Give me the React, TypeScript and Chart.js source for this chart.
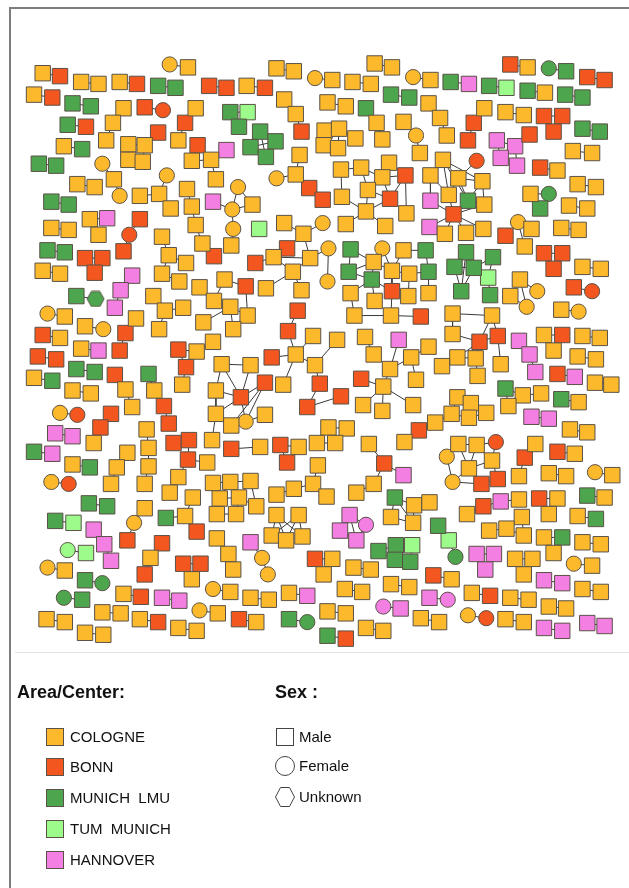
import React, { useEffect, useRef } from 'react';
import { Chart, registerables } from 'chart.js';
Chart.register(...registerables);

type Node = [number, number, string];
type Comp = Node[] | { n: Node[]; e: [number, number][] };

// Node kind code: first letter = center (O Cologne, R Bonn, G Munich LMU, L TUM Munich, P Hannover)
// suffix: '' square (male), 'c' circle (female), 'h' hexagon (unknown)
const centerCodes = ['O', 'R', 'G', 'L', 'P'];
const centerLabels = ['COLOGNE', 'BONN', 'MUNICH  LMU', 'TUM  MUNICH', 'HANNOVER'];
const centerColors = ['#FDB92C', '#F4561F', '#4DA54D', '#9DFB8B', '#F47FE3'];
const sexLabels = ['Male', 'Female', 'Unknown'];

const topLeft: Comp[] = [
  [[164, 54, 'Oc'], [183, 57, 'O']],
  [[32, 63, 'O'], [50, 66, 'R']],
  [[72, 72, 'O'], [90, 74, 'O']],
  [[112, 72, 'O'], [130, 74, 'R']],
  [[152, 76, 'G'], [170, 78, 'G']],
  [[205, 76, 'R'], [223, 78, 'R']],
  [[23, 85, 'O'], [42, 88, 'R']],
  [[63, 94, 'G'], [82, 97, 'G']],
  [[138, 98, 'R'], [157, 101, 'Rc']],
  [[116, 99, 'O'], [105, 114, 'O'], [98, 132, 'O']],
  [[191, 99, 'O'], [180, 114, 'R'], [173, 132, 'O']],
  [[58, 116, 'G'], [77, 118, 'R']],
  { n: [[152, 124, 'R'], [138, 137, 'O'], [121, 136, 'O'], [121, 152, 'O'], [136, 154, 'O']], e: [[0, 1], [1, 2], [2, 3], [3, 4], [1, 4]] },
  [[54, 138, 'O'], [73, 141, 'G']],
  { n: [[193, 137, 'R'], [187, 153, 'O'], [207, 152, 'O'], [212, 172, 'O'], [223, 142, 'P']], e: [[0, 1], [1, 2], [2, 3], [2, 4]] },
  [[28, 156, 'G'], [46, 158, 'G']],
  [[94, 156, 'Oc'], [106, 172, 'O'], [112, 189, 'Oc']],
  { n: [[161, 168, 'Oc'], [153, 187, 'O'], [133, 189, 'O'], [165, 202, 'O']], e: [[0, 1], [1, 2], [1, 3]] },
  [[68, 177, 'O'], [86, 180, 'O']],
  [[182, 182, 'O'], [187, 200, 'O'], [191, 219, 'O'], [198, 238, 'O'], [210, 251, 'R']],
  [[41, 195, 'G'], [59, 198, 'G']],
  { n: [[81, 213, 'O'], [99, 212, 'P'], [90, 229, 'O']], e: [[0, 1], [0, 2]] },
  [[133, 213, 'R'], [122, 229, 'Rc'], [116, 246, 'R']],
  [[41, 222, 'O'], [59, 224, 'O']],
  { n: [[156, 231, 'O'], [163, 250, 'O'], [181, 258, 'O'], [156, 269, 'O'], [174, 277, 'O']], e: [[0, 1], [1, 2], [1, 3], [3, 4]] },
];

const topCenter: Comp[] = [
  [[275, 58, 'O'], [293, 61, 'O']],
  [[377, 53, 'O'], [395, 57, 'O']],
  [[315, 68, 'Oc'], [333, 70, 'O']],
  [[354, 72, 'O'], [373, 74, 'O']],
  [[417, 67, 'Oc'], [435, 70, 'O']],
  [[244, 76, 'O'], [263, 78, 'R']],
  [[394, 85, 'G'], [413, 88, 'G']],
  { n: [[227, 103, 'G'], [245, 103, 'L'], [236, 118, 'G']], e: [[0, 1], [0, 2]] },
  [[283, 90, 'O'], [295, 105, 'O'], [301, 123, 'R']],
  [[328, 93, 'O'], [347, 97, 'O']],
  [[368, 99, 'G'], [379, 114, 'O'], [385, 131, 'O']],
  [[407, 113, 'O'], [420, 127, 'Oc'], [424, 145, 'O']],
  { n: [[258, 123, 'G'], [274, 133, 'G'], [248, 139, 'G'], [264, 149, 'G']], e: [[0, 1], [0, 2], [0, 3], [1, 3], [2, 3], [1, 2]] },
  { n: [[325, 122, 'O'], [340, 120, 'O'], [324, 137, 'O'], [339, 140, 'O'], [357, 130, 'O']], e: [[0, 1], [0, 2], [2, 3], [1, 4], [1, 3]] },
  { n: [[299, 147, 'O'], [295, 167, 'O'], [275, 171, 'Oc'], [309, 181, 'R'], [323, 193, 'R']], e: [[0, 1], [1, 2], [1, 3], [3, 4]] },
  {
    n: [[342, 162, 'O'], [363, 160, 'O'], [392, 155, 'O'], [385, 170, 'O'], [409, 168, 'R'], [370, 183, 'O'], [343, 190, 'O'], [393, 192, 'R'], [410, 207, 'O'], [368, 205, 'O'], [347, 218, 'O'], [388, 220, 'O']],
    e: [[0, 1], [0, 6], [1, 3], [2, 3], [3, 4], [1, 5], [3, 5], [5, 7], [4, 7], [2, 4], [4, 8], [5, 9], [6, 9], [7, 9], [7, 8], [9, 10], [9, 11], [3, 7]],
  },
  { n: [[235, 180, 'Oc'], [229, 203, 'Oc'], [250, 198, 'O'], [230, 223, 'Oc'], [228, 240, 'O'], [209, 195, 'P']], e: [[0, 1], [0, 2], [1, 2], [1, 5], [1, 3], [3, 4]] },
  [[257, 223, 'L']],
  {
    n: [[283, 217, 'O'], [303, 228, 'O'], [323, 217, 'Oc'], [286, 243, 'R'], [272, 252, 'O'], [253, 258, 'R'], [292, 267, 'O'], [310, 253, 'O'], [329, 243, 'Oc'], [328, 277, 'Oc'], [264, 284, 'O'], [301, 286, 'O']],
    e: [[0, 1], [1, 2], [1, 3], [3, 4], [4, 5], [4, 6], [6, 7], [7, 8], [8, 9], [6, 10], [6, 11], [4, 7], [1, 7]],
  },
  {
    n: [[352, 244, 'G'], [350, 267, 'G'], [374, 275, 'G'], [376, 257, 'O'], [395, 266, 'O'], [413, 269, 'O'], [385, 243, 'Oc'], [407, 245, 'O'], [395, 287, 'R'], [352, 289, 'O'], [377, 297, 'O'], [412, 292, 'O'], [356, 312, 'O'], [394, 312, 'O'], [425, 313, 'R'], [430, 245, 'G'], [433, 267, 'G'], [433, 289, 'O']],
    e: [[0, 1], [1, 2], [2, 3], [3, 4], [4, 5], [4, 6], [4, 7], [4, 8], [2, 9], [9, 12], [8, 13], [12, 13], [13, 14], [5, 16], [16, 15], [5, 11], [2, 10], [16, 17], [15, 7], [1, 3], [0, 3], [2, 8]],
  },
];

const topRight: Comp[] = [
  [[518, 54, 'R'], [536, 57, 'O']],
  [[558, 58, 'Gc'], [576, 61, 'G']],
  [[598, 67, 'R'], [616, 70, 'R']],
  [[456, 72, 'G'], [475, 74, 'P']],
  [[496, 76, 'G'], [514, 78, 'L']],
  [[536, 81, 'G'], [554, 83, 'O']],
  [[575, 85, 'G'], [593, 88, 'G']],
  [[433, 94, 'O'], [445, 109, 'O'], [452, 127, 'O']],
  [[491, 99, 'O'], [480, 114, 'R'], [474, 132, 'R']],
  [[513, 103, 'O'], [532, 106, 'O']],
  { n: [[553, 107, 'R'], [572, 107, 'R'], [563, 123, 'R']], e: [[0, 1], [0, 2]] },
  [[593, 120, 'G'], [611, 123, 'G']],
  { n: [[538, 126, 'R'], [504, 132, 'P'], [523, 138, 'P'], [508, 150, 'P'], [525, 158, 'P']], e: [[0, 2], [1, 2], [1, 3], [2, 4]] },
  [[583, 143, 'O'], [603, 145, 'O']],
  [[549, 160, 'R'], [567, 163, 'O']],
  {
    n: [[448, 152, 'O'], [483, 153, 'Rc'], [435, 168, 'O'], [464, 171, 'O'], [489, 174, 'O'], [454, 188, 'O'], [435, 194, 'P'], [474, 194, 'G'], [491, 198, 'O'], [459, 208, 'R'], [434, 221, 'P'], [450, 228, 'O'], [472, 227, 'O'], [490, 223, 'O']],
    e: [[0, 2], [0, 3], [0, 5], [0, 7], [1, 3], [3, 4], [3, 5], [3, 7], [4, 7], [4, 8], [2, 6], [5, 9], [6, 9], [7, 9], [8, 9], [9, 10], [9, 11], [9, 12], [9, 13], [7, 8], [0, 4], [2, 5]],
  },
  [[588, 177, 'O'], [607, 180, 'O']],
  { n: [[539, 187, 'O'], [558, 187, 'Gc'], [549, 202, 'G']], e: [[0, 1], [0, 2]] },
  [[579, 199, 'O'], [598, 202, 'O']],
  { n: [[526, 216, 'Oc'], [540, 223, 'O'], [513, 230, 'R'], [533, 241, 'O']], e: [[0, 1], [0, 2], [0, 3]] },
  [[571, 222, 'O'], [589, 224, 'O']],
  { n: [[472, 247, 'G'], [460, 262, 'G'], [480, 263, 'G'], [500, 252, 'G'], [495, 273, 'L'], [467, 287, 'G'], [497, 291, 'G']], e: [[0, 1], [0, 2], [1, 2], [2, 3], [2, 4], [4, 6], [1, 5], [0, 5], [2, 5], [3, 4]] },
];

const midLeft: Comp[] = [
  [[37, 245, 'G'], [55, 247, 'G']],
  { n: [[76, 253, 'R'], [94, 253, 'R'], [86, 268, 'R']], e: [[0, 1], [0, 2]] },
  [[32, 266, 'O'], [50, 269, 'O']],
  [[125, 271, 'P'], [113, 286, 'P'], [107, 304, 'P']],
  [[67, 292, 'G'], [87, 295, 'Gh']],
  [[37, 310, 'Oc'], [55, 313, 'O']],
  [[76, 323, 'O'], [95, 326, 'Oc']],
  [[129, 315, 'O'], [118, 330, 'R'], [112, 348, 'R']],
  { n: [[147, 292, 'O'], [159, 307, 'O'], [178, 304, 'O'], [153, 326, 'O']], e: [[0, 1], [1, 2], [1, 3]] },
  [[32, 332, 'R'], [50, 335, 'O']],
  [[72, 346, 'O'], [90, 348, 'P']],
  [[27, 354, 'R'], [46, 357, 'R']],
  { n: [[173, 347, 'R'], [192, 349, 'O'], [181, 365, 'R'], [177, 383, 'O'], [209, 339, 'O']], e: [[0, 1], [0, 2], [2, 3], [1, 4]] },
  [[67, 367, 'G'], [86, 370, 'G']],
  [[23, 376, 'O'], [42, 379, 'G']],
  [[107, 373, 'R'], [118, 388, 'O'], [125, 406, 'O']],
  [[142, 372, 'G'], [148, 389, 'O'], [158, 405, 'R'], [163, 423, 'R']],
  [[63, 389, 'O'], [82, 392, 'O']],
  [[50, 412, 'Oc'], [68, 414, 'Rc']],
  [[103, 413, 'R'], [92, 427, 'R'], [85, 443, 'O']],
  [[140, 429, 'O'], [142, 448, 'O'], [142, 467, 'O'], [138, 485, 'O']],
  [[45, 433, 'P'], [63, 436, 'P']],
  { n: [[221, 275, 'O'], [243, 282, 'R'], [195, 283, 'O'], [210, 297, 'O'], [227, 303, 'O'], [245, 312, 'O'], [199, 319, 'O'], [230, 326, 'O']], e: [[0, 1], [0, 3], [2, 3], [3, 4], [4, 5], [1, 5], [4, 6], [4, 7]] },
];

const midCenter: Comp[] = [
  { n: [[297, 307, 'R'], [287, 328, 'R'], [295, 352, 'O'], [270, 355, 'R'], [313, 333, 'O'], [338, 337, 'O'], [315, 363, 'O'], [282, 383, 'O'], [320, 382, 'R'], [307, 406, 'R'], [342, 395, 'R']], e: [[0, 1], [1, 2], [3, 2], [4, 2], [2, 7], [2, 6], [5, 6], [6, 8], [8, 9], [9, 10]] },
  { n: [[218, 362, 'O'], [248, 363, 'O'], [263, 381, 'R'], [238, 396, 'R'], [212, 389, 'O'], [212, 413, 'O'], [243, 421, 'Oc'], [228, 425, 'O'], [263, 414, 'O'], [208, 440, 'O']], e: [[0, 1], [0, 3], [1, 3], [2, 3], [3, 4], [3, 5], [3, 6], [2, 6], [4, 5], [5, 7], [6, 7], [6, 8], [2, 7], [0, 4], [5, 9]] },
  { n: [[367, 334, 'O'], [376, 352, 'O'], [402, 337, 'P'], [393, 367, 'O'], [415, 355, 'O'], [420, 378, 'O'], [363, 377, 'R'], [386, 385, 'O'], [365, 404, 'O'], [385, 410, 'O'], [417, 404, 'O'], [433, 344, 'O']], e: [[0, 1], [1, 3], [2, 3], [3, 4], [4, 5], [3, 7], [6, 7], [7, 8], [7, 9], [7, 10], [4, 11]] },
];

const midRight: Comp[] = [
  { n: [[458, 310, 'O'], [499, 312, 'O'], [458, 331, 'O'], [486, 339, 'R'], [505, 333, 'R'], [463, 355, 'O'], [482, 356, 'O'], [508, 362, 'O'], [447, 364, 'O'], [484, 374, 'O']], e: [[0, 1], [0, 2], [1, 4], [2, 3], [3, 4], [1, 3], [3, 5], [3, 6], [4, 7], [5, 8], [6, 9], [5, 6]] },
  [[593, 262, 'O'], [612, 264, 'O']],
  { n: [[553, 248, 'R'], [572, 248, 'R'], [563, 264, 'R']], e: [[0, 1], [0, 2]] },
  { n: [[528, 275, 'O'], [546, 287, 'Oc'], [518, 292, 'O'], [535, 303, 'Oc']], e: [[0, 1], [2, 3], [0, 3]] },
  [[584, 283, 'R'], [603, 287, 'Rc']],
  [[571, 306, 'O'], [589, 308, 'Oc']],
  [[527, 338, 'P'], [538, 352, 'P'], [544, 370, 'P']],
  { n: [[553, 332, 'O'], [572, 332, 'R'], [563, 348, 'O']], e: [[0, 1], [0, 2]] },
  [[593, 333, 'O'], [611, 335, 'O']],
  [[588, 354, 'O'], [607, 357, 'O']],
  [[567, 372, 'R'], [585, 375, 'P']],
  [[606, 381, 'O'], [623, 383, 'O']],
  { n: [[513, 387, 'G'], [531, 394, 'O'], [550, 392, 'O'], [516, 405, 'O']], e: [[0, 1], [1, 2], [0, 3]] },
  [[571, 398, 'G'], [589, 401, 'O']],
  { n: [[463, 396, 'O'], [477, 402, 'O'], [457, 413, 'O'], [475, 417, 'O'], [493, 412, 'O'], [440, 422, 'O'], [423, 430, 'R']], e: [[0, 1], [0, 2], [1, 3], [2, 3], [3, 4], [2, 5], [5, 6]] },
  [[540, 416, 'P'], [558, 418, 'P']],
  [[580, 429, 'O'], [598, 432, 'O']],
];

const bottomLeft: Comp[] = [
  [[23, 452, 'G'], [42, 454, 'P']],
  [[63, 465, 'O'], [81, 468, 'G']],
  [[120, 453, 'O'], [109, 468, 'O'], [103, 485, 'O']],
  [[41, 483, 'Oc'], [59, 485, 'Rc']],
  { n: [[168, 443, 'R'], [184, 440, 'R'], [183, 460, 'R'], [203, 463, 'O'], [173, 478, 'O'], [164, 494, 'O']], e: [[0, 1], [1, 2], [2, 3], [2, 4], [4, 5]] },
  [[80, 505, 'G'], [99, 508, 'G']],
  { n: [[188, 499, 'O'], [180, 518, 'O'], [160, 520, 'G'], [192, 534, 'R']], e: [[0, 1], [1, 2], [1, 3]] },
  [[138, 510, 'O'], [127, 525, 'Oc'], [120, 543, 'R']],
  [[45, 523, 'G'], [64, 525, 'L']],
  [[85, 532, 'P'], [96, 547, 'P'], [103, 564, 'P']],
  [[156, 546, 'R'], [144, 561, 'O'], [138, 578, 'R']],
  [[58, 553, 'Lc'], [77, 556, 'L']],
  { n: [[178, 567, 'R'], [196, 567, 'R'], [187, 583, 'O']], e: [[0, 1], [0, 2]] },
  [[37, 571, 'Oc'], [55, 574, 'O']],
  [[76, 584, 'G'], [94, 587, 'Gc']],
  [[54, 602, 'Gc'], [73, 604, 'G']],
  [[116, 598, 'O'], [134, 601, 'R']],
  [[156, 602, 'P'], [174, 605, 'P']],
  [[94, 617, 'O'], [113, 618, 'O']],
  [[36, 624, 'O'], [55, 627, 'O']],
  [[133, 624, 'O'], [152, 627, 'R']],
  [[173, 633, 'O'], [192, 636, 'O']],
  [[76, 638, 'O'], [95, 640, 'O']],
];

const bottomCenter: Comp[] = [
  [[228, 449, 'R'], [258, 447, 'O']],
  { n: [[279, 445, 'R'], [298, 447, 'O'], [286, 463, 'R']], e: [[0, 1], [0, 2]] },
  [[329, 427, 'O'], [348, 428, 'O']],
  [[317, 443, 'O'], [336, 443, 'O']],
  { n: [[371, 444, 'O'], [387, 464, 'R'], [407, 476, 'P'], [376, 485, 'O'], [358, 494, 'O']], e: [[0, 1], [1, 2], [1, 3], [3, 4]] },
  [[408, 442, 'O']],
  { n: [[318, 466, 'O'], [313, 485, 'O'], [293, 490, 'O'], [275, 496, 'O'], [327, 498, 'O']], e: [[0, 1], [1, 2], [2, 3], [1, 4]] },
  { n: [[209, 484, 'O'], [216, 500, 'O'], [213, 516, 'O'], [227, 483, 'O'], [248, 482, 'O'], [236, 499, 'O'], [254, 508, 'O'], [233, 516, 'O']], e: [[3, 4], [3, 5], [4, 5], [5, 6], [5, 7], [1, 5], [1, 3], [2, 7], [0, 3], [0, 1], [1, 2], [4, 6]] },
  { n: [[275, 517, 'O'], [298, 517, 'O'], [270, 538, 'O'], [285, 543, 'O'], [302, 539, 'O']], e: [[0, 2], [0, 3], [0, 4], [1, 2], [1, 3], [1, 4]] },
  { n: [[351, 517, 'P'], [368, 527, 'Pc'], [341, 533, 'P'], [358, 543, 'P']], e: [[0, 1], [0, 2], [0, 3], [1, 3], [2, 3]] },
  { n: [[398, 499, 'G'], [394, 519, 'O'], [418, 507, 'O'], [434, 504, 'O'], [417, 525, 'O']], e: [[0, 1], [0, 2], [1, 4], [2, 4], [0, 4], [2, 3]] },
  [[248, 545, 'P'], [260, 561, 'Oc'], [266, 578, 'Oc']],
  [[213, 541, 'O'], [225, 557, 'O'], [230, 573, 'O']],
  { n: [[315, 562, 'R'], [333, 562, 'O'], [324, 578, 'O']], e: [[0, 1], [0, 2]] },
  { n: [[381, 554, 'G'], [399, 548, 'G'], [416, 548, 'L'], [398, 563, 'G'], [414, 565, 'G']], e: [[0, 3], [1, 2], [1, 3], [2, 4], [3, 4], [0, 1]] },
  [[355, 571, 'O'], [373, 573, 'O']],
  [[394, 588, 'O'], [413, 591, 'O']],
  [[209, 593, 'Oc'], [227, 596, 'O']],
  [[248, 602, 'O'], [267, 604, 'O']],
  [[288, 597, 'O'], [307, 600, 'P']],
  [[346, 593, 'O'], [364, 596, 'O']],
  [[195, 615, 'Oc'], [214, 618, 'O']],
  [[386, 611, 'Pc'], [404, 613, 'P']],
  [[328, 616, 'O'], [347, 618, 'O']],
  [[236, 624, 'R'], [254, 627, 'O']],
  [[288, 624, 'G'], [307, 627, 'Gc']],
  [[368, 633, 'O'], [386, 636, 'O']],
  [[328, 641, 'G'], [347, 644, 'R']],
];

const bottomRight: Comp[] = [
  { n: [[464, 444, 'O'], [483, 445, 'O'], [503, 442, 'Rc'], [452, 457, 'Oc'], [475, 469, 'O'], [499, 461, 'O'], [458, 483, 'Oc'], [488, 485, 'R'], [505, 480, 'R']], e: [[0, 3], [0, 1], [1, 2], [0, 4], [1, 5], [4, 5], [4, 6], [4, 7], [5, 8], [6, 7], [7, 8], [2, 5], [3, 6], [1, 4]] },
  [[544, 444, 'O'], [533, 458, 'R'], [527, 477, 'O']],
  [[567, 452, 'R'], [585, 454, 'O']],
  [[558, 474, 'O'], [576, 477, 'O']],
  [[606, 473, 'Oc'], [624, 476, 'O']],
  [[473, 516, 'O'], [490, 508, 'R'], [508, 503, 'P'], [527, 501, 'O']],
  { n: [[548, 500, 'R'], [567, 500, 'O'], [558, 516, 'O']], e: [[0, 1], [0, 2]] },
  [[598, 497, 'G'], [616, 499, 'O']],
  [[588, 518, 'O'], [607, 521, 'G']],
  { n: [[530, 519, 'O'], [514, 531, 'O'], [496, 533, 'O'], [532, 538, 'O']], e: [[0, 1], [1, 2], [1, 3], [0, 3]] },
  { n: [[553, 540, 'O'], [572, 540, 'G'], [563, 556, 'O']], e: [[0, 1], [0, 2]] },
  [[593, 545, 'O'], [612, 547, 'O']],
  [[443, 528, 'G'], [454, 543, 'L'], [461, 560, 'Gc']],
  { n: [[483, 557, 'P'], [501, 557, 'P'], [492, 573, 'P']], e: [[0, 1], [0, 2]] },
  { n: [[523, 562, 'O'], [541, 562, 'O'], [532, 578, 'O']], e: [[0, 1], [0, 2]] },
  [[584, 567, 'Oc'], [603, 569, 'O']],
  [[438, 579, 'R'], [457, 583, 'O']],
  [[553, 584, 'P'], [572, 587, 'P']],
  [[593, 593, 'O'], [612, 596, 'O']],
  [[434, 602, 'P'], [453, 604, 'Pc']],
  [[478, 597, 'O'], [497, 600, 'R']],
  [[518, 602, 'O'], [537, 604, 'O']],
  [[558, 611, 'O'], [576, 613, 'O']],
  [[425, 623, 'O'], [444, 627, 'O']],
  [[474, 620, 'Oc'], [493, 623, 'Rc']],
  [[513, 624, 'O'], [532, 627, 'O']],
  [[553, 633, 'P'], [572, 636, 'P']],
  [[598, 628, 'P'], [616, 631, 'P']],
];

const regions: Comp[][] = [topLeft, topCenter, topRight, midLeft, midCenter, midRight, bottomLeft, bottomCenter, bottomRight];

const FONT = '"Liberation Sans", Arial, Helvetica, sans-serif';
const STROKE = '#5a5248';

function hexagonCanvas(fill: string, w: number, h: number) {
  const c = document.createElement('canvas');
  c.width = w + 2;
  c.height = h + 2;
  const ctx = c.getContext('2d')!;
  const cx = c.width / 2, cy = c.height / 2;
  ctx.beginPath();
  ctx.moveTo(cx - w / 2, cy);
  ctx.lineTo(cx - w / 4, cy - h / 2);
  ctx.lineTo(cx + w / 4, cy - h / 2);
  ctx.lineTo(cx + w / 2, cy);
  ctx.lineTo(cx + w / 4, cy + h / 2);
  ctx.lineTo(cx - w / 4, cy + h / 2);
  ctx.closePath();
  ctx.fillStyle = fill;
  ctx.fill();
  ctx.lineWidth = 1;
  ctx.strokeStyle = STROKE;
  ctx.stroke();
  return c;
}

export default function App() {
  const ref = useRef<HTMLCanvasElement>(null);

  useEffect(() => {
    const groups: Record<string, { x: number; y: number }[]> = {};
    const edges: { x: number | null; y: number | null }[] = [];
    for (const region of regions) {
      for (const c of region) {
        const nodes = Array.isArray(c) ? c : c.n;
        const links = Array.isArray(c) ? nodes.slice(1).map((_, i) => [i, i + 1]) : c.e;
        nodes.forEach(([x, y, k]) => {
          (groups[k] ||= []).push({ x, y });
        });
        links.forEach(([a, b]) => {
          edges.push({ x: nodes[a][0], y: nodes[a][1] }, { x: nodes[b][0], y: nodes[b][1] }, { x: null, y: null });
        });
      }
    }

    const datasets: any[] = [
      {
        label: 'links',
        data: edges,
        showLine: true,
        spanGaps: false,
        borderColor: '#3a3a3a',
        borderWidth: 1,
        pointRadius: 0,
        tension: 0,
        order: 10,
        clip: false,
      },
    ];
    centerCodes.forEach((code, ci) => {
      ['', 'c', 'h'].forEach((shape) => {
        const pts = groups[code + shape];
        if (!pts) return;
        datasets.push({
          label: centerLabels[ci] + ' ' + sexLabels[shape === '' ? 0 : shape === 'c' ? 1 : 2],
          data: pts,
          showLine: false,
          backgroundColor: centerColors[ci],
          borderColor: STROKE,
          borderWidth: 1,
          pointStyle: shape === '' ? 'rect' : shape === 'c' ? 'circle' : hexagonCanvas(centerColors[ci], 17, 15),
          pointRadius: shape === '' ? 10.9 : 7.6,
          order: 0,
          clip: false,
        });
      });
    });

    const chart = new Chart(ref.current!, {
      type: 'scatter',
      data: { datasets },
      options: {
        responsive: false,
        animation: false,
        devicePixelRatio: 1,
        events: [],
        layout: { padding: 0 },
        plugins: { legend: { display: false }, tooltip: { enabled: false } },
        scales: {
          x: { type: 'linear', min: 0, max: 629, display: false },
          y: { type: 'linear', min: 0, max: 888, reverse: true, display: false },
        },
      },
    });
    return () => chart.destroy();
  }, []);

  const rowY = [737, 767, 798, 829, 860];
  const sexY = [737, 766, 797];

  return (
    <div style={{ position: 'absolute', left: 0, top: 0, width: 629, height: 888, overflow: 'hidden', background: '#fff', fontFamily: FONT, color: '#111' }}>
      <canvas ref={ref} width={629} height={888} style={{ position: 'absolute', left: 0, top: 0 }} />
      <div style={{ position: 'absolute', left: 9, top: 7, width: 640, height: 900, borderLeft: '2px solid #7d7d7d', borderTop: '2px solid #7d7d7d' }} />
      <div style={{ position: 'absolute', left: 15, top: 652, width: 614, height: 1, background: '#e2e2e2' }} />
      <div style={{ position: 'absolute', left: 17, top: 681, fontSize: 18, fontWeight: 'bold', lineHeight: '22px', whiteSpace: 'pre' }}>Area/Center:</div>
      <div style={{ position: 'absolute', left: 275, top: 681, fontSize: 18, fontWeight: 'bold', lineHeight: '22px', whiteSpace: 'pre' }}>Sex :</div>
      {centerLabels.map((lab, i) => (
        <React.Fragment key={lab}>
          <div style={{ position: 'absolute', left: 46, top: rowY[i] - 9, width: 18, height: 18, boxSizing: 'border-box', border: '1px solid ' + STROKE, background: centerColors[i] }} />
          <div style={{ position: 'absolute', left: 70, top: rowY[i] - 10, fontSize: 15, lineHeight: '20px', whiteSpace: 'pre' }}>{lab}</div>
        </React.Fragment>
      ))}
      <div style={{ position: 'absolute', left: 276, top: sexY[0] - 9, width: 18, height: 18, boxSizing: 'border-box', border: '1px solid #444', background: '#fff' }} />
      <div style={{ position: 'absolute', left: 275, top: sexY[1] - 10, width: 20, height: 20, boxSizing: 'border-box', border: '1px solid #444', borderRadius: '50%', background: '#fff' }} />
      <svg style={{ position: 'absolute', left: 274, top: sexY[2] - 11 }} width={22} height={22}>
        <polygon points="1.5,11 6.5,1.5 15.5,1.5 20.5,11 15.5,20.5 6.5,20.5" fill="#fff" stroke="#444" strokeWidth={1} />
      </svg>
      {sexLabels.map((lab, i) => (
        <div key={lab} style={{ position: 'absolute', left: 299, top: sexY[i] - 10, fontSize: 15, lineHeight: '20px', whiteSpace: 'pre' }}>{lab}</div>
      ))}
    </div>
  );
}
